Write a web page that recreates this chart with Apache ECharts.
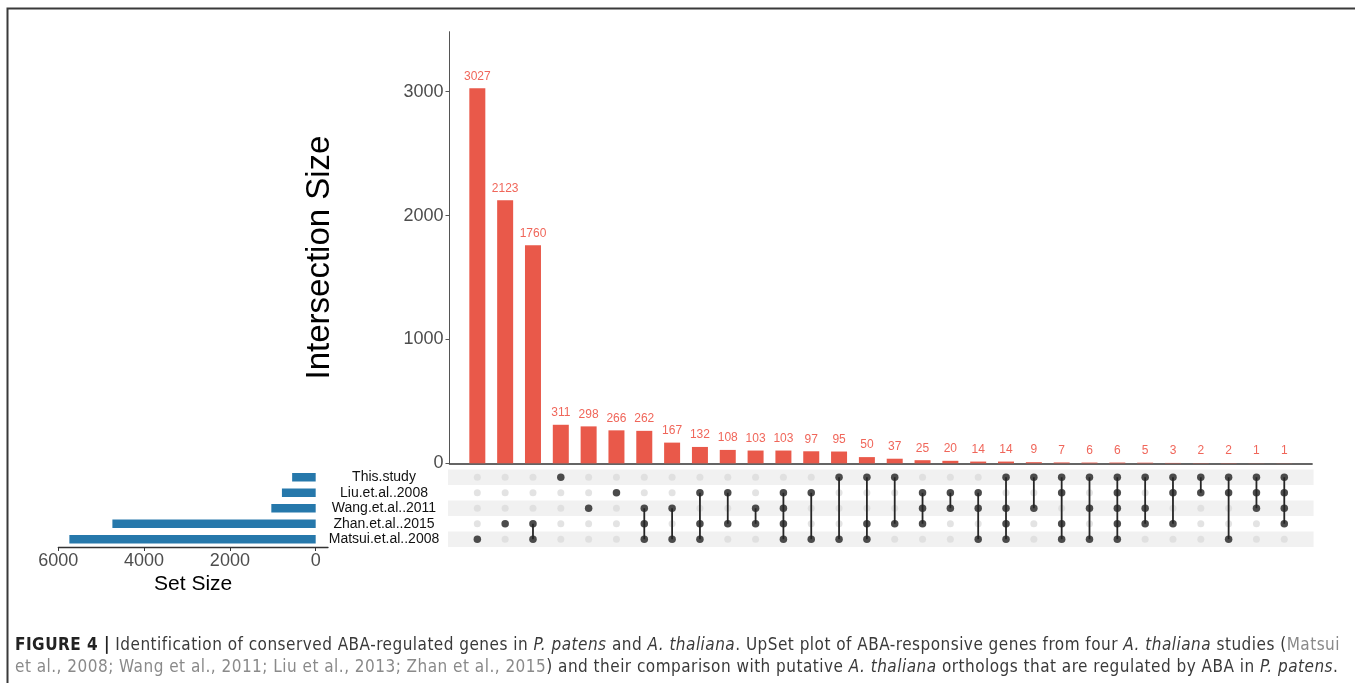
<!DOCTYPE html>
<html>
<head>
<meta charset="utf-8">
<script src="https://cdn.jsdelivr.net/npm/echarts@6/dist/echarts.min.js"></script>
<style>
  html, body { margin: 0; padding: 0; background: #fff; }
  #chart { position: absolute; left: 0; top: 0; width: 1355px; height: 683px; }
  #caption {
    position: absolute; left: 15px; top: 633px; width: 1338px;
    font-family: "DejaVu Sans Condensed", "Liberation Sans", sans-serif;
    font-size: 17px; line-height: 22px; color: #3a3a3a; white-space: nowrap;
  }
  #caption b { color: #222; }
  #caption .ref { color: #8a8a8a; }
</style>
</head>
<body>
<div id="chart"></div>
<div id="caption">
  <span id="line1"><b>FIGURE 4 |</b> Identification of conserved ABA-regulated genes in <i>P. patens</i> and <i>A. thaliana</i>. UpSet plot of ABA-responsive genes from four <i>A. thaliana</i> studies (<span class="ref">Matsui</span></span><br>
  <span id="line2"><span class="ref">et al., 2008; Wang et al., 2011; Liu et al., 2013; Zhan et al., 2015</span>) and their comparison with putative <i>A. thaliana</i> orthologs that are regulated by ABA in <i>P. patens</i>.</span>
</div>
<script>
// Sets, top row first
const setNames = ['This.study', 'Liu.et.al..2008', 'Wang.et.al..2011', 'Zhan.et.al..2015', 'Matsui.et.al..2008'];
const setKeys = ['T', 'L', 'W', 'Z', 'M'];
const setSizes = [549, 787, 1034, 4739, 5742];

// Intersections, in plotted order
const intersectionSizes = [3027, 2123, 1760, 311, 298, 266, 262, 167, 132, 108, 103, 103, 97, 95, 50,
                           37, 25, 20, 14, 14, 9, 7, 6, 6, 5, 3, 2, 2, 1, 1];
const intersectionMembers = ['M', 'Z', 'ZM', 'T', 'W', 'L', 'WZM', 'WM', 'LZM', 'LZ', 'WZ', 'LWZM', 'LM', 'TM', 'TZM',
                             'TZ', 'LWZ', 'LW', 'LWM', 'TWZM', 'TW', 'TLZM', 'TWM', 'TLWZM', 'TWZ', 'TLZ', 'TL', 'TLM', 'TLW', 'TLWZ'];

const intersectionTicks = [0, 1000, 2000, 3000];
const setSizeTicks = [0, 2000, 4000, 6000];

// category axes run bottom-to-top, so reverse the top-first set order
const rowCats = setNames.slice().reverse();
const rowOf = k => rowCats.indexOf(setNames[setKeys.indexOf(k)]);

const FONT = '"Liberation Sans", Arial, Helvetica, sans-serif';
const BAR = '#E9594A';
const LABEL = '#F0665A';
const SETBAR = '#2678AB';
const DOT = '#262626';
const DOT_OFF = '#DCDCDC';
const STRIPE = '#F1F1F1';

const barData = intersectionSizes.map((v, i) => [i + 1, v]);
const bgDots = [];
intersectionSizes.forEach((_, i) => rowCats.forEach((_, r) => bgDots.push([i + 1, r])));
const onDots = [];
const links = [];
intersectionMembers.forEach((m, i) => {
  const rows = m.split('').map(rowOf);
  rows.forEach(r => onDots.push([i + 1, r]));
  if (rows.length > 1) links.push([i + 1, Math.min(...rows), Math.max(...rows)]);
});
const setData = rowCats.map(n => setSizes[setNames.indexOf(n)]);
// alternate rows get a light band, starting with the bottom one
const stripeRows = rowCats.map((_, r) => [0, r]).filter(d => d[1] % 2 === 0);

const plain = v => String(v);
const L = 449.5, W = 862.6;
const chart = echarts.init(document.getElementById('chart'), null, { renderer: 'canvas' });
chart.setOption({
  animation: false,
  textStyle: { fontFamily: FONT },
  grid: [
    { left: L, top: 31.7, width: W, height: 431.6 },
    { left: L, top: 469.5, width: W, height: 77.5 },
    { left: 58.3, top: 469.5, width: 269.7, height: 77.5 }
  ],
  xAxis: [
    { gridIndex: 0, type: 'value', min: 0, max: 31,
      axisLine: { show: true, lineStyle: { color: '#333', width: 1.5 } },
      axisTick: { show: false }, axisLabel: { show: false }, splitLine: { show: false } },
    { gridIndex: 1, type: 'value', min: 0, max: 31, show: false },
    { gridIndex: 2, type: 'value', min: -287, max: 6000, inverse: true,
      axisLine: { show: true, onZero: false, lineStyle: { color: '#333', width: 1.3 } },
      axisTick: { show: true, customValues: setSizeTicks, length: 4, lineStyle: { color: '#333' } },
      axisLabel: { show: true, customValues: setSizeTicks, formatter: plain, fontSize: 18, color: '#4d4d4d', margin: 5 },
      splitLine: { show: false },
      name: 'Set Size', nameLocation: 'middle', nameGap: 27,
      nameTextStyle: { fontSize: 21, color: '#000' } }
  ],
  yAxis: [
    { gridIndex: 0, type: 'value', min: 0, max: 3484,
      axisLine: { show: true, lineStyle: { color: '#555', width: 1 } },
      axisTick: { show: true, customValues: intersectionTicks, length: 4, lineStyle: { color: '#555' } },
      axisLabel: { customValues: intersectionTicks, formatter: plain, fontSize: 18, color: '#4d4d4d', margin: 6 },
      splitLine: { show: false },
      name: 'Intersection Size', nameLocation: 'middle', nameRotate: 90, nameGap: 113,
      nameTextStyle: { fontSize: 33, color: '#000', padding: [0, 20, 0, 0] } },
    { gridIndex: 1, type: 'category', data: rowCats,
      axisLine: { show: false }, axisTick: { show: false }, axisLabel: { show: false },
      splitLine: { show: false } },
    { gridIndex: 2, type: 'category', data: rowCats, position: 'right',
      axisLine: { show: false }, axisTick: { show: false },
      axisLabel: { interval: 0, fontSize: 14, color: '#111', margin: 56, align: 'center' } }
  ],
  series: [
    { type: 'bar', xAxisIndex: 0, yAxisIndex: 0, data: barData, barWidth: 16,
      itemStyle: { color: BAR },
      label: { show: true, position: 'top', distance: 6, fontSize: 12, color: LABEL } },
    { type: 'custom', xAxisIndex: 1, yAxisIndex: 1, data: stripeRows, z: 1, silent: true,
      encode: { x: 0, y: 1 },
      renderItem: (params, api) => {
        const cs = params.coordSys;
        const c = api.coord([0, api.value(1)]);
        const h = api.size([0, 1])[1];
        return { type: 'rect', shape: { x: cs.x - 1.5, y: c[1] - h / 2, width: cs.width + 3, height: h },
                 style: { fill: STRIPE } };
      } },
    { type: 'scatter', xAxisIndex: 1, yAxisIndex: 1, data: bgDots, symbolSize: 7,
      itemStyle: { color: DOT_OFF }, z: 2 },
    { type: 'custom', xAxisIndex: 1, yAxisIndex: 1, data: links, z: 3,
      encode: { x: 0, y: [1, 2] },
      renderItem: (params, api) => {
        const a = api.coord([api.value(0), api.value(1)]);
        const b = api.coord([api.value(0), api.value(2)]);
        return { type: 'line', shape: { x1: a[0], y1: a[1], x2: b[0], y2: b[1] },
                 style: { stroke: DOT, lineWidth: 1.8 } };
      } },
    { type: 'scatter', xAxisIndex: 1, yAxisIndex: 1, data: onDots, symbolSize: 7.5,
      itemStyle: { color: DOT }, z: 4 },
    { type: 'bar', xAxisIndex: 2, yAxisIndex: 2, data: setData, barWidth: 8.5,
      itemStyle: { color: SETBAR } }
  ],
  graphic: [
    { type: 'polyline', shape: { points: [[7.5, 683], [7.5, 8.5], [1355, 8.5]] },
      style: { stroke: '#3a3a3a', lineWidth: 2, fill: null } }
  ]
});

// spread the caption's first line across the text column
(function fitCaption() {
  const line1 = document.getElementById('line1');
  const line2 = document.getElementById('line2');
  const target = 1325;
  const w = line1.getBoundingClientRect().width;
  const n = line1.textContent.length;
  const ls = (target - w) / n;
  line1.style.letterSpacing = ls + 'px';
  line2.style.letterSpacing = ls + 'px';
})();
</script>
</body>
</html>
